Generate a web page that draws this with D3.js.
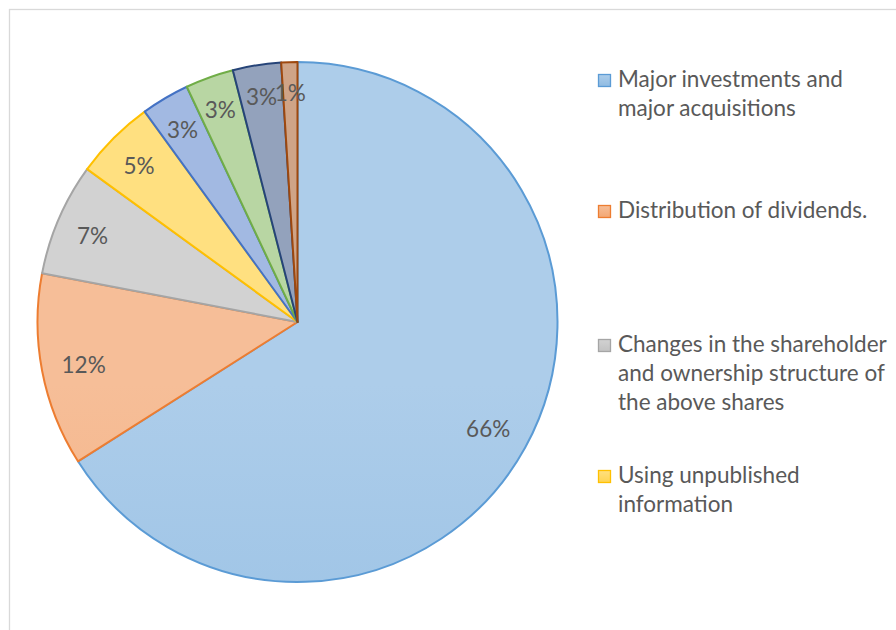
<!DOCTYPE html>
<html><head><meta charset="utf-8">
<script src="https://cdn.jsdelivr.net/npm/d3@7"></script>
<style>body{margin:0;background:#fff}svg{display:block}</style>
</head><body>
<svg id="c" width="896" height="630"></svg>
<script>
const categories = [
  "Major investments and major acquisitions",
  "Distribution of dividends.",
  "Changes in the shareholder and ownership structure of the above shares",
  "Using unpublished information",
  "Category 5",
  "Category 6",
  "Category 7",
  "Category 8"
];
const values = [66, 12, 7, 5, 3, 3, 3, 1];
const colors = ["#5B9BD5","#ED7D31","#A5A5A5","#FFC000","#4472C4","#70AD47","#264478","#9E480E"];
const legendLines = [
  ["Major investments and","major acquisitions"],
  ["Distribution of dividends."],
  ["Changes in the shareholder","and ownership structure of","the above shares"],
  ["Using unpublished","information"]
];

const svg = d3.select("#c");
const FONT = "Lato, 'Open Sans', sans-serif";
const cx = 297.5, cy = 322, R = 260;

svg.append("rect").attr("x",9.5).attr("y",9.5).attr("width",1000).attr("height",1000)
  .attr("fill","#fff").attr("stroke","#d9d9d9").attr("stroke-width",1.3);

const defs = svg.append("defs");
const mix = (c, t) => d3.interpolateRgb(c, "#fff")(t);
colors.forEach((c,i)=>{
  const g = defs.append("linearGradient").attr("id","g"+i)
    .attr("gradientUnits","userSpaceOnUse").attr("x1",0).attr("y1",cy-R).attr("x2",0).attr("y2",cy+R);
  g.append("stop").attr("offset",0).attr("stop-color",mix(c,0.5));
  g.append("stop").attr("offset",1).attr("stop-color",mix(c,0.32));
});

const pie = d3.pie().sort(null).value(d=>d)(values);
const arc = d3.arc().innerRadius(0).outerRadius(R);
const gp = svg.append("g").attr("transform",`translate(${cx},${cy})`);
gp.selectAll("path").data(pie).join("path")
  .attr("d",arc).attr("fill",(d,i)=>`url(#g${i})`)
  .attr("stroke",(d,i)=>colors[i]).attr("stroke-width",2).attr("stroke-linejoin","round");

// measure font size for target width
const probe = svg.append("text").attr("font-family",FONT).attr("font-size",20).text("Major investments and");
const fs = 20 * 225 / probe.node().getComputedTextLength();
probe.remove();

const total = d3.sum(values);
gp.selectAll("text.lbl").data(pie).join("text").attr("class","lbl")
  .attr("font-family",FONT).attr("font-size",fs).attr("fill","#595959")
  .attr("text-anchor","middle").attr("dominant-baseline","central")
  .text(d=>Math.round(d.value/total*100)+"%")
  .each(function(d){
    const w = this.getComputedTextLength(), h = fs*0.75;
    const a = (d.startAngle+d.endAngle)/2;
    const s = Math.sin(a), c = Math.cos(a);
    const r = R - (Math.abs(s)*w/2 + Math.abs(c)*h/2) - 19;
    d3.select(this).attr("x", r*s).attr("y", -r*c + 2);
  });

const legY = [87, 218, 352, 483];
const lg = svg.append("g");
legendLines.forEach((lines,i)=>{
  const g = defs.append("linearGradient").attr("id","lg"+i).attr("x1",0).attr("y1",0).attr("x2",0).attr("y2",1);
  g.append("stop").attr("offset",0).attr("stop-color",mix(colors[i],0.5));
  g.append("stop").attr("offset",1).attr("stop-color",mix(colors[i],0.32));
  lg.append("rect").attr("x",598.5).attr("y",legY[i]-12.5).attr("width",12).attr("height",12)
    .attr("fill",`url(#lg${i})`).attr("stroke",colors[i]).attr("stroke-width",1.3);
  const t = lg.append("text").attr("font-family",FONT).attr("font-size",fs).attr("fill","#595959");
  lines.forEach((l,j)=>t.append("tspan").attr("x",618).attr("y",legY[i]+j*29).text(l));
});
</script>
</body></html>
